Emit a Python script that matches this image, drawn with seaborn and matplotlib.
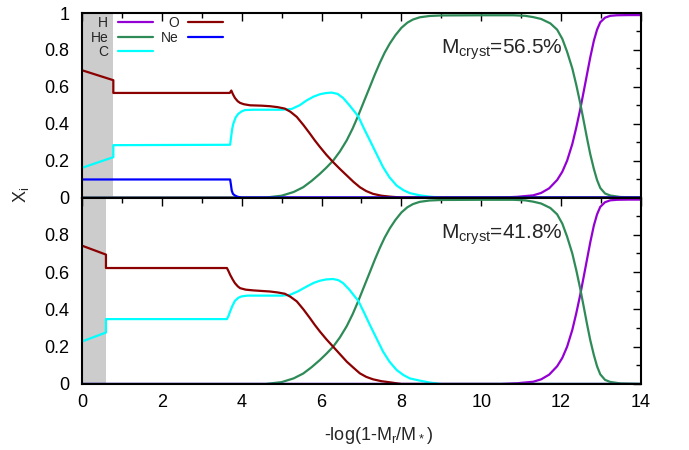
import matplotlib

matplotlib.use("Agg")
import matplotlib.pyplot as plt
import seaborn as sns
from matplotlib.ticker import MultipleLocator, FuncFormatter

# --- data (x = -log(1-Mr/M*), y = mass fraction) ---
# H and He profiles are the same in both panels
h_x = [0, 10.5, 10.9, 11.3, 11.5, 11.7, 11.9, 12.03, 12.15, 12.28, 12.38, 12.48, 12.57,
       12.65, 12.73, 12.82, 12.9, 12.98, 13.1, 13.23, 13.4, 13.7, 14.0]
h_y = [0, 0, 0.004, 0.012, 0.025, 0.05, 0.095, 0.14, 0.2, 0.29, 0.38, 0.48, 0.58,
       0.67, 0.76, 0.85, 0.91, 0.95, 0.975, 0.985, 0.988, 0.989, 0.989]

he_x = [0, 4.6, 5.0, 5.3, 5.54, 5.75, 5.96, 6.12, 6.29, 6.46, 6.63, 6.78, 6.92, 7.06,
        7.21, 7.34, 7.46, 7.58, 7.71, 7.85, 8.0, 8.15, 8.29, 8.46, 8.7, 9.0, 10.0, 10.8,
        11.1, 11.3, 11.5, 11.73, 11.9, 12.03, 12.15, 12.28, 12.38, 12.48, 12.57, 12.65,
        12.73, 12.82, 12.9, 12.98, 13.1, 13.23, 13.48, 14.0]
he_y = [0, 0, 0.01, 0.03, 0.056, 0.09, 0.129, 0.162, 0.20, 0.25, 0.31, 0.375, 0.445, 0.52,
        0.60, 0.67, 0.73, 0.785, 0.835, 0.88, 0.92, 0.948, 0.965, 0.977, 0.984, 0.987,
        0.988, 0.988, 0.985, 0.978, 0.968, 0.944, 0.91, 0.86, 0.79, 0.70, 0.61, 0.51, 0.41,
        0.32, 0.235, 0.155, 0.095, 0.052, 0.022, 0.011, 0.003, 0]

# top panel, M_cryst = 56.5%
c_top_x = [0, 0.785, 0.785, 3.71, 3.73, 3.76, 3.79, 3.85, 3.92, 4.0, 4.08, 4.3, 5.0, 5.25,
           5.45, 5.63, 5.8, 5.96, 6.1, 6.25, 6.4, 6.54, 6.7, 6.81, 6.92, 7.06, 7.21, 7.38,
           7.54, 7.7, 7.88, 8.05, 8.21, 8.46, 8.7, 9.0, 14.0]
c_top_y = [0.161, 0.219, 0.284, 0.286, 0.32, 0.37, 0.40, 0.435, 0.455, 0.467, 0.474, 0.476,
           0.476, 0.48, 0.50, 0.527, 0.547, 0.56, 0.566, 0.569, 0.562, 0.54, 0.50, 0.47,
           0.44, 0.375, 0.31, 0.235, 0.165, 0.11, 0.065, 0.04, 0.024, 0.012, 0.005, 0, 0]

o_top_x = [0, 0.785, 0.785, 3.70, 3.74, 3.78, 3.83, 3.9, 3.96, 4.05, 4.21, 4.5, 4.71, 4.9,
           5.08, 5.22, 5.38, 5.55, 5.71, 5.83, 5.96, 6.12, 6.29, 6.46, 6.63, 6.8, 6.96,
           7.12, 7.29, 7.5, 7.71, 8.0, 14.0]
o_top_y = [0.69, 0.636, 0.567, 0.567, 0.58, 0.56, 0.54, 0.522, 0.513, 0.506, 0.50, 0.498,
           0.495, 0.49, 0.482, 0.465, 0.437, 0.392, 0.346, 0.31, 0.274, 0.232, 0.192, 0.155,
           0.12, 0.085, 0.056, 0.035, 0.02, 0.01, 0.005, 0, 0]

ne_top_x = [0, 3.71, 3.73, 3.75, 3.78, 3.83, 3.9, 4.0, 14.0]
ne_top_y = [0.098, 0.098, 0.07, 0.038, 0.02, 0.011, 0.004, 0, 0]

# bottom panel, M_cryst = 41.8%
c_bot_x = [0, 0.6, 0.6, 3.63, 3.67, 3.71, 3.77, 3.83, 3.92, 4.0, 4.15, 5.0, 5.21, 5.42,
           5.63, 5.8, 5.96, 6.12, 6.29, 6.42, 6.54, 6.7, 6.81, 6.92, 7.06, 7.21, 7.38,
           7.54, 7.7, 7.88, 8.05, 8.21, 8.46, 8.7, 9.0, 14.0]
c_bot_y = [0.228, 0.276, 0.348, 0.348, 0.365, 0.389, 0.42, 0.446, 0.463, 0.47, 0.474, 0.474,
           0.478, 0.498, 0.523, 0.542, 0.554, 0.561, 0.563, 0.557, 0.541, 0.505, 0.475,
           0.446, 0.385, 0.317, 0.243, 0.174, 0.12, 0.075, 0.048, 0.03, 0.018, 0.008, 0, 0]

o_bot_x = [0, 0.6, 0.6, 3.63, 3.67, 3.71, 3.77, 3.83, 3.9, 3.96, 4.1, 4.29, 4.71, 4.9,
           5.08, 5.22, 5.38, 5.55, 5.71, 5.83, 5.96, 6.12, 6.29, 6.46, 6.63, 6.8, 6.96,
           7.12, 7.29, 7.5, 7.71, 8.0, 14.0]
o_bot_y = [0.742, 0.694, 0.622, 0.622, 0.605, 0.586, 0.562, 0.541, 0.524, 0.514, 0.506,
           0.502, 0.496, 0.491, 0.484, 0.468, 0.443, 0.399, 0.353, 0.317, 0.281, 0.24, 0.20,
           0.16, 0.12, 0.087, 0.057, 0.038, 0.025, 0.015, 0.009, 0, 0]

ne_bot_x = [0, 14.0]
ne_bot_y = [0, 0]

shade_top = 0.785
shade_bot = 0.6
label_top = "M$_\\mathregular{cryst}$=56.5%"
label_bot = "M$_\\mathregular{cryst}$=41.8%"

species = ["H", "He", "C", "O", "Ne"]
colors = {"H": "#9400d3", "He": "#2e8b57", "C": "#00ffff", "O": "#8b0000", "Ne": "#0000ff"}

sns.set_theme(style="white")
plt.rcParams["font.family"] = ["Liberation Sans", "DejaVu Sans"]
plt.rcParams["mathtext.default"] = "regular"

fig = plt.figure(figsize=(6.89, 4.5), dpi=100)
ax_top = fig.add_axes([0.119, 0.561, 0.8113, 0.41])
ax_bot = fig.add_axes([0.119, 0.1467, 0.8113, 0.4143])

panels = [
    (ax_top, shade_top, label_top,
     {"H": (h_x, h_y), "He": (he_x, he_y), "C": (c_top_x, c_top_y),
      "O": (o_top_x, o_top_y), "Ne": (ne_top_x, ne_top_y)}),
    (ax_bot, shade_bot, label_bot,
     {"H": (h_x, h_y), "He": (he_x, he_y), "C": (c_bot_x, c_bot_y),
      "O": (o_bot_x, o_bot_y), "Ne": (ne_bot_x, ne_bot_y)}),
]

for ax, shade, label, series in panels:
    ax.axvspan(0, shade, color="#cccccc", lw=0, zorder=0)
    for name in species:
        xs, ys = series[name]
        sns.lineplot(x=xs, y=ys, ax=ax, color=colors[name], lw=1.6, label=name,
                     estimator=None, sort=False, legend=False)
    ax.text(9.0, 0.78, label, fontsize=15, ha="left", va="baseline")
    ax.set_xlim(0, 14)
    ax.set_ylim(0, 1)
    ax.xaxis.set_major_locator(MultipleLocator(2))
    ax.xaxis.set_minor_locator(MultipleLocator(1))
    ax.yaxis.set_major_locator(MultipleLocator(0.2))
    ax.yaxis.set_minor_locator(MultipleLocator(0.1))
    ax.tick_params(which="both", direction="in", top=True, right=True, colors="black",
                   labelsize=13)
    ax.tick_params(which="major", length=6, width=1)
    ax.tick_params(which="minor", length=3.5, width=1)
    ax.tick_params(axis="y", pad=9)
    ax.tick_params(axis="x", pad=7)
    for sp in ax.spines.values():
        sp.set_linewidth(1.5)
        sp.set_color("black")
        sp.set_zorder(5)
    ax.set_xlabel("")
    ax.set_ylabel("")

fmt = FuncFormatter(lambda v, p: "%g" % round(v, 2))
ax_top.yaxis.set_major_formatter(fmt)
ax_top.tick_params(axis="x", labelbottom=False)
ax_bot.yaxis.set_major_formatter(
    FuncFormatter(lambda v, p: "" if v > 0.95 else "%g" % round(v, 2)))
ax_bot.xaxis.set_major_formatter(fmt)

handles, labels = ax_top.get_legend_handles_labels()
ax_top.legend(handles, labels, loc="upper left", bbox_to_anchor=(0.015, 0.985), ncol=2,
              frameon=False, markerfirst=False, fontsize=10, handlelength=2.5,
              handletextpad=0.7, columnspacing=0.6, labelspacing=0.05, borderpad=0,
              borderaxespad=0)

fig.text(0.55, 0.022, "-log(1-M$_\\mathregular{r}$/M$_*$)", fontsize=13, ha="center",
         va="baseline")
fig.text(0.03, 0.567, "X$_\\mathregular{i}$", fontsize=13, rotation=90, ha="center",
         va="center")

fig.savefig("out.png", dpi=100)
